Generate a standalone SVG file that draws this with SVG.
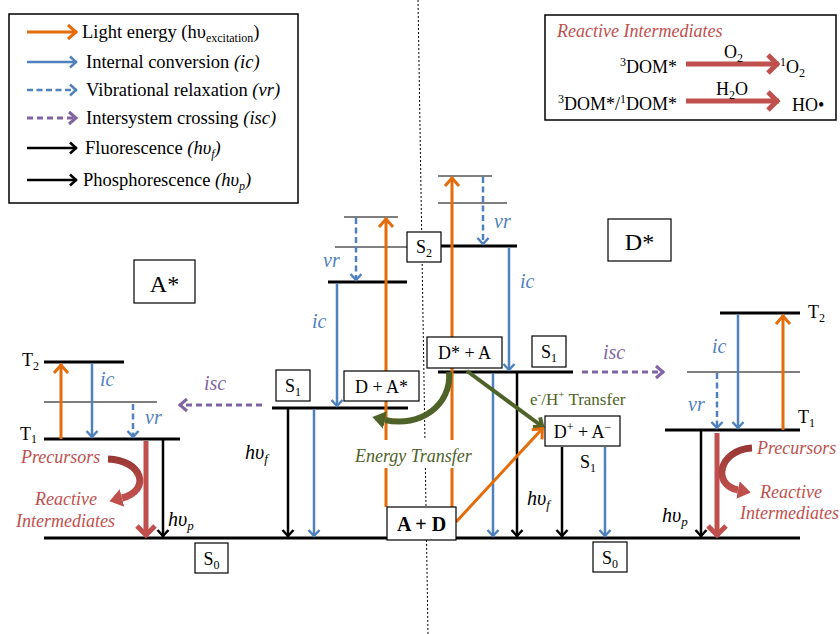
<svg xmlns="http://www.w3.org/2000/svg" width="840" height="634" viewBox="0 0 840 634" font-family="Liberation Serif, Times New Roman, serif">
<style>
text{font-family:"Liberation Serif","Times New Roman",serif;fill:#000}
.t18{font-size:18px}
.lg{font-size:18.5px}
.lab{font-size:20px;font-style:italic}
.blue{fill:#4F81BD}
.pur{fill:#8064A2}
.red{fill:#C0504D}
.grn{fill:#4F6228}
.box{fill:#fff;stroke:#000;stroke-width:1.2}
.lvl{stroke:#000;stroke-width:3}
.thin{stroke:#000;stroke-width:1.2}
.ao{stroke:#E46C0A;stroke-width:3;fill:none;marker-end:url(#mo)}
.ab{stroke:#4F81BD;stroke-width:2.5;fill:none;marker-end:url(#mb)}
.abd{stroke:#4F81BD;stroke-width:2.5;fill:none;stroke-dasharray:6,3.5;marker-end:url(#mb)}
.ap{stroke:#8064A2;stroke-width:3;fill:none;stroke-dasharray:6,4;marker-end:url(#mp)}
.ak{stroke:#000;stroke-width:2.5;fill:none;marker-end:url(#mk)}
.ar{stroke:#C0504D;stroke-width:5;fill:none;marker-end:url(#mr)}
</style>
<defs>
<marker id="mo" viewBox="-14 -10 16 20" refX="0" refY="0" markerWidth="16" markerHeight="20" markerUnits="userSpaceOnUse" orient="auto"><path d="M-9,-7 L-1,0 L-9,7" fill="none" stroke="#E46C0A" stroke-width="3"/></marker>
<marker id="mb" viewBox="-12 -8 14 16" refX="0" refY="0" markerWidth="14" markerHeight="16" markerUnits="userSpaceOnUse" orient="auto"><path d="M-7,-5.5 L-1,0 L-7,5.5" fill="none" stroke="#4F81BD" stroke-width="2.5"/></marker>
<marker id="mk" viewBox="-12 -8 14 16" refX="0" refY="0" markerWidth="14" markerHeight="16" markerUnits="userSpaceOnUse" orient="auto"><path d="M-7,-5.5 L-1,0 L-7,5.5" fill="none" stroke="#000" stroke-width="2.5"/></marker>
<marker id="mp" viewBox="-12 -8 14 16" refX="0" refY="0" markerWidth="14" markerHeight="16" markerUnits="userSpaceOnUse" orient="auto"><path d="M-8,-6 L-1,0 L-8,6" fill="none" stroke="#8064A2" stroke-width="3"/></marker>
<marker id="mr" viewBox="-16 -12 18 24" refX="0" refY="0" markerWidth="18" markerHeight="24" markerUnits="userSpaceOnUse" orient="auto"><path d="M-11,-9 L-2,0 L-11,9" fill="none" stroke="#C0504D" stroke-width="5"/></marker>
<marker id="mg" viewBox="-10 -8 12 16" refX="0" refY="0" markerWidth="12" markerHeight="16" markerUnits="userSpaceOnUse" orient="auto"><path d="M-8,-6 L-1,0 L-8,6" fill="none" stroke="#4F6228" stroke-width="4"/></marker>
<marker id="mrc" viewBox="0 -10 14 20" refX="0" refY="0" markerWidth="14" markerHeight="20" markerUnits="userSpaceOnUse" orient="auto"><path d="M0,-9 L13,0 L0,9 z" fill="#C0504D"/></marker>
<marker id="mgc" viewBox="0 -10 14 20" refX="0" refY="0" markerWidth="14" markerHeight="20" markerUnits="userSpaceOnUse" orient="auto"><path d="M0,-9 L13,0 L0,9 z" fill="#4F6228"/></marker>
<linearGradient id="gr" gradientUnits="userSpaceOnUse" x1="0" y1="455" x2="0" y2="495"><stop offset="0" stop-color="#963634"/><stop offset="1" stop-color="#C0504D"/></linearGradient>
<linearGradient id="gr2" gradientUnits="userSpaceOnUse" x1="0" y1="444" x2="0" y2="492"><stop offset="0" stop-color="#963634"/><stop offset="1" stop-color="#C0504D"/></linearGradient>
</defs>

<!-- center divider -->
<line x1="418" y1="0" x2="428" y2="634" stroke="#000" stroke-width="1" stroke-dasharray="2,2"/>

<!-- Legend -->
<g id="legend">
<rect x="9" y="14" width="289" height="189" fill="#fff" stroke="#000" stroke-width="1.5"/>
<line x1="27" y1="32" x2="77" y2="32" class="ao"/>
<line x1="27" y1="62" x2="77" y2="62" class="ab"/>
<line x1="27" y1="90" x2="77" y2="90" class="abd"/>
<line x1="27" y1="118" x2="77" y2="118" class="ap"/>
<line x1="27" y1="148" x2="77" y2="148" class="ak"/>
<line x1="27" y1="180" x2="77" y2="180" class="ak"/>
<text x="82" y="38" class="lg">Light energy (hυ<tspan font-size="12" dy="4">excitation</tspan><tspan dy="-4">)</tspan></text>
<text x="86" y="68" class="lg">Internal conversion <tspan font-style="italic">(ic)</tspan></text>
<text x="86" y="96" class="lg">Vibrational relaxation <tspan font-style="italic">(vr)</tspan></text>
<text x="86" y="124" class="lg">Intersystem crossing <tspan font-style="italic">(isc)</tspan></text>
<text x="85" y="154" class="lg">Fluorescence <tspan font-style="italic">(hυ<tspan font-size="12" dy="4">f</tspan><tspan dy="-4">)</tspan></tspan></text>
<text x="83" y="186" class="lg">Phosphorescence <tspan font-style="italic">(hυ<tspan font-size="12" dy="4">p</tspan><tspan dy="-4">)</tspan></tspan></text>
</g>

<!-- Reactive intermediates box -->
<g id="reactive-box">
<rect x="545" y="15" width="291" height="105" fill="#fff" stroke="#000" stroke-width="1.5"/>
<text x="557" y="37" class="t18 red" font-style="italic">Reactive Intermediates</text>
<line x1="686" y1="64" x2="779" y2="64" class="ar"/>
<line x1="686" y1="101" x2="779" y2="101" class="ar"/>
<text x="677" y="73" class="t18" text-anchor="end"><tspan font-size="12" dy="-7">3</tspan><tspan dy="7">DOM*</tspan></text>
<text x="724" y="58" class="t18">O<tspan font-size="12" dy="4">2</tspan></text>
<text x="780" y="73" class="t18"><tspan font-size="12" dy="-7">1</tspan><tspan dy="7">O</tspan><tspan font-size="12" dy="4">2</tspan></text>
<text x="677" y="110" class="t18" text-anchor="end"><tspan font-size="12" dy="-7">3</tspan><tspan dy="7">DOM*/</tspan><tspan font-size="12" dy="-7">1</tspan><tspan dy="7">DOM*</tspan></text>
<text x="716" y="95" class="t18">H<tspan font-size="12" dy="4">2</tspan><tspan dy="-4">O</tspan></text>
<text x="792" y="111" class="t18">HO•</text>
</g>

<!-- Energy levels -->
<g id="levels">
<line x1="44" y1="538" x2="800" y2="538" class="lvl"/>
<line x1="44" y1="362" x2="124" y2="362" class="lvl"/>
<line x1="44" y1="402" x2="157" y2="402" class="thin"/>
<line x1="44" y1="439" x2="180" y2="439" class="lvl"/>
<line x1="344" y1="217" x2="398" y2="217" class="thin"/>
<line x1="335" y1="247" x2="407" y2="247" stroke="#808080" stroke-width="2"/>
<line x1="328" y1="282" x2="407" y2="282" class="lvl"/>
<line x1="272" y1="408" x2="408" y2="408" class="lvl"/>
<line x1="438" y1="176" x2="492" y2="176" class="thin"/>
<line x1="438" y1="203" x2="507" y2="203" class="thin"/>
<line x1="441" y1="246" x2="517" y2="246" class="lvl"/>
<line x1="438" y1="372" x2="573" y2="372" class="lvl"/>
<line x1="720" y1="313" x2="800" y2="313" class="lvl"/>
<line x1="687" y1="372" x2="800" y2="372" class="thin"/>
<line x1="665" y1="430" x2="800" y2="430" class="lvl"/>
</g>

<!-- Connectors -->
<g id="connectors">
<!-- left A* -->
<line x1="61" y1="439" x2="61" y2="364" class="ao"/>
<line x1="92" y1="363" x2="92" y2="438" class="ab"/>
<line x1="133" y1="404" x2="133" y2="438" class="abd"/>
<line x1="262" y1="405" x2="179" y2="405" class="ap"/>
<line x1="163" y1="440" x2="163" y2="537" class="ak"/>
<line x1="146" y1="441" x2="146" y2="537" class="ar"/>
<path d="M108,459 C142,460 152,490 122,498" fill="none" stroke="url(#gr)" stroke-width="7" marker-end="url(#mrc)"/>
<!-- middle -->
<line x1="386" y1="507" x2="386" y2="218" class="ao"/>
<line x1="356" y1="218" x2="356" y2="281" class="abd"/>
<line x1="337" y1="283" x2="337" y2="407" class="ab"/>
<line x1="288" y1="409" x2="288" y2="537" class="ak"/>
<line x1="314" y1="409" x2="314" y2="537" class="ab"/>
<!-- center right -->
<line x1="452" y1="507" x2="452" y2="177" class="ao"/>
<line x1="483" y1="177" x2="483" y2="245" class="abd"/>
<line x1="509" y1="247" x2="509" y2="371" class="ab"/>
<line x1="493" y1="373" x2="493" y2="537" class="ab"/>
<line x1="517" y1="373" x2="517" y2="537" class="ak"/>
<line x1="582" y1="372" x2="664" y2="372" class="ap"/>
<line x1="467" y1="371" x2="543" y2="427" stroke="#4F6228" stroke-width="4" marker-end="url(#mg)"/>
<line x1="456" y1="522" x2="543" y2="428" class="ao"/>
<line x1="562" y1="447" x2="562" y2="537" class="ak"/>
<line x1="605" y1="447" x2="605" y2="537" class="ab"/>
<path d="M449,372 C452,405 420,428 385,420" fill="none" stroke="#4F6228" stroke-width="6" marker-end="url(#mgc)"/>
<!-- right D* -->
<line x1="738" y1="314" x2="738" y2="429" class="ab"/>
<line x1="783" y1="430" x2="783" y2="315" class="ao"/>
<line x1="717" y1="373" x2="717" y2="429" class="abd"/>
<line x1="701" y1="431" x2="701" y2="537" class="ak"/>
<line x1="717" y1="433" x2="717" y2="537" class="ar"/>
<path d="M752,448 C718,450 712,485 738,490" fill="none" stroke="url(#gr2)" stroke-width="7" marker-end="url(#mrc)"/>
</g>

<!-- Process labels -->
<g id="labels">
<text x="22" y="366" class="t18">T<tspan font-size="12" dy="4">2</tspan></text>
<text x="20" y="440" class="t18">T<tspan font-size="12" dy="3">1</tspan></text>
<text x="100" y="386" class="lab blue">ic</text>
<text x="145" y="424" class="lab blue">vr</text>
<text x="204" y="390" class="lab pur">isc</text>
<text x="168" y="526" class="lab">hυ<tspan font-size="13" dy="4">p</tspan></text>
<text x="21" y="463" class="t18 red" font-style="italic">Precursors</text>
<text x="35" y="505" class="t18 red" font-style="italic">Reactive</text>
<text x="16" y="527" class="t18 red" font-style="italic">Intermediates</text>
<text x="323" y="267" class="lab blue">vr</text>
<text x="312" y="328" class="lab blue">ic</text>
<text x="245" y="459" class="lab">hυ<tspan font-size="13" dy="4">f</tspan></text>
<text x="494" y="228" class="lab blue">vr</text>
<text x="520" y="288" class="lab blue">ic</text>
<text x="603" y="359" class="lab pur">isc</text>
<text x="530" y="405" font-size="17" class="grn">e<tspan font-size="11" dy="-7">-</tspan><tspan dy="7">/H</tspan><tspan font-size="11" dy="-7">+</tspan><tspan dy="7"> Transfer</tspan></text>
<text x="527" y="505" class="lab">hυ<tspan font-size="13" dy="4">f</tspan></text>
<text x="580" y="468" class="t18">S<tspan font-size="12" dy="4">1</tspan></text>
<rect x="350" y="440" width="130" height="28" fill="#fff"/>
<text x="355" y="462" class="t18 grn" font-style="italic" font-size="18.5">Energy Transfer</text>
<text x="712" y="353" class="lab blue">ic</text>
<text x="688" y="411" class="lab blue">vr</text>
<text x="662" y="522" class="lab">hυ<tspan font-size="13" dy="4">p</tspan></text>
<text x="808" y="318" class="t18">T<tspan font-size="12" dy="4">2</tspan></text>
<text x="798" y="423" class="t18">T<tspan font-size="12" dy="4">1</tspan></text>
<text x="757" y="454" class="t18 red" font-style="italic">Precursors</text>
<text x="760" y="498" class="t18 red" font-style="italic">Reactive</text>
<text x="740" y="519" class="t18 red" font-style="italic">Intermediates</text>
</g>

<!-- Boxed nodes -->
<g id="node-Astar"><rect x="134" y="260" width="61" height="43" class="box"/><text x="164.5" y="292" font-size="24" text-anchor="middle">A*</text></g>
<g id="node-Dstar"><rect x="608" y="219" width="63" height="42" class="box"/><text x="639.5" y="250" font-size="24" text-anchor="middle">D*</text></g>
<g id="node-S2"><rect x="407" y="232" width="34" height="30" class="box"/><text x="424" y="253" class="t18" text-anchor="middle">S<tspan font-size="12" dy="4">2</tspan></text></g>
<g id="node-S1-left"><rect x="276" y="370" width="34" height="31" class="box"/><text x="293" y="392" class="t18" text-anchor="middle">S<tspan font-size="12" dy="4">1</tspan></text></g>
<g id="node-DA-star"><rect x="344" y="371" width="75" height="30" class="box"/><text x="381.5" y="393" class="t18" text-anchor="middle">D + A*</text></g>
<g id="node-DstarA"><rect x="427" y="337" width="75" height="31" class="box"/><text x="464.5" y="359" class="t18" text-anchor="middle">D* + A</text></g>
<g id="node-S1-right"><rect x="532" y="336" width="34" height="31" class="box"/><text x="549" y="358" class="t18" text-anchor="middle">S<tspan font-size="12" dy="4">1</tspan></text></g>
<g id="node-DplusAminus"><rect x="545" y="416" width="75" height="30" class="box"/><text x="582.5" y="438" class="t18" text-anchor="middle">D<tspan font-size="12" dy="-7">+</tspan><tspan dy="7"> + A</tspan><tspan font-size="12" dy="-7">−</tspan></text></g>
<g id="node-AD"><rect x="387" y="507" width="69" height="33" class="box"/><text x="421.5" y="531" font-size="20" font-weight="bold" text-anchor="middle">A + D</text></g>
<g id="node-S0-left"><rect x="195" y="543" width="33" height="30" class="box"/><text x="211.5" y="565" class="t18" text-anchor="middle">S<tspan font-size="12" dy="4">0</tspan></text></g>
<g id="node-S0-right"><rect x="593" y="542" width="34" height="30" class="box"/><text x="610" y="564" class="t18" text-anchor="middle">S<tspan font-size="12" dy="4">0</tspan></text></g>
</svg>
